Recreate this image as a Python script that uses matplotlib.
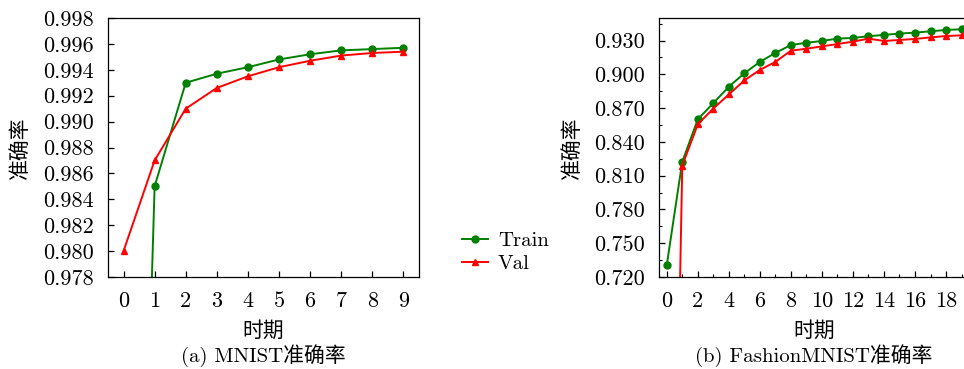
import numpy as np
import matplotlib
matplotlib.use("Agg")
import matplotlib.pyplot as plt
from matplotlib.ticker import MultipleLocator, FormatStrFormatter

plt.rcParams['font.family'] = ['cmr10', 'Noto Sans CJK SC']
plt.rcParams['font.size'] = 15

# MNIST (10 epochs)
mnist_epochs = np.arange(10)
mnist_train = [0.9045, 0.985, 0.993, 0.9937, 0.9942, 0.9948, 0.9952, 0.9955, 0.9956, 0.9957]
mnist_val = [0.980, 0.987, 0.991, 0.9926, 0.9935, 0.9942, 0.9947, 0.9951, 0.9953, 0.9954]

# FashionMNIST (20 epochs)
fm_epochs = np.arange(20)
fm_train = [0.7305, 0.8224, 0.860, 0.8744, 0.889, 0.9009, 0.911, 0.919, 0.926, 0.928,
            0.9296, 0.9317, 0.9323, 0.9338, 0.935, 0.9362, 0.937, 0.9382, 0.9394, 0.940]
fm_val = [0.10, 0.8189, 0.8556, 0.8696, 0.8821, 0.8946, 0.9039, 0.911, 0.921, 0.9227,
          0.9248, 0.9269, 0.929, 0.9317, 0.9296, 0.9305, 0.9314, 0.9328, 0.934, 0.9346]

fig = plt.figure(figsize=(9.64, 3.69), dpi=100)
ax1 = fig.add_axes([0.112, 0.2493, 0.3226, 0.7019])
ax2 = fig.add_axes([0.6836, 0.2493, 0.3219, 0.7019])


def style(ax, caption):
    ax.tick_params(direction='in', length=4, width=0.9, pad=10.5, labelsize=16)
    ax.tick_params(which='minor', direction='in', length=2.5, width=0.8)
    ax.tick_params(axis='x', pad=10.5)
    ax.set_xlabel('时期')
    ax.set_ylabel('准确率')
    ax.xaxis.set_label_coords(0.5, -0.17)
    ax.yaxis.set_label_coords(-0.25, 0.5)
    ax.text(0.5, -0.305, caption, transform=ax.transAxes, ha='center', va='center')
    for s in ax.spines.values():
        s.set_linewidth(0.9)


l1, = ax1.plot(mnist_epochs, mnist_train, color='green', marker='o', ms=5, lw=1.4, label='Train')
l2, = ax1.plot(mnist_epochs, mnist_val, color='red', marker='^', ms=5, lw=1.4, label='Val')
ax1.set_xlim(-0.5, 9.5)
ax1.set_ylim(0.978, 0.998)
ax1.set_xticks(mnist_epochs)
ax1.yaxis.set_major_locator(MultipleLocator(0.002))
ax1.yaxis.set_major_formatter(FormatStrFormatter('%.3f'))
style(ax1, '(a) MNIST准确率')

ax2.plot(fm_epochs, fm_train, color='green', marker='o', ms=5, lw=1.4)
ax2.plot(fm_epochs, fm_val, color='red', marker='^', ms=5, lw=1.4)
ax2.set_xlim(-0.5, 19.5)
ax2.set_ylim(0.72, 0.95)
ax2.xaxis.set_major_locator(MultipleLocator(2))
ax2.xaxis.set_minor_locator(MultipleLocator(1))
ax2.yaxis.set_major_locator(MultipleLocator(0.03))
ax2.yaxis.set_minor_locator(MultipleLocator(0.015))
ax2.yaxis.set_major_formatter(FormatStrFormatter('%.3f'))
style(ax2, '(b) FashionMNIST准确率')

fig.legend(handles=[l1, l2], loc='center', bbox_to_anchor=(0.5244, 0.3157), frameon=False,
           handlelength=1.25, handletextpad=0.45, labelspacing=0.2)

fig.savefig('out.png', dpi=100)
